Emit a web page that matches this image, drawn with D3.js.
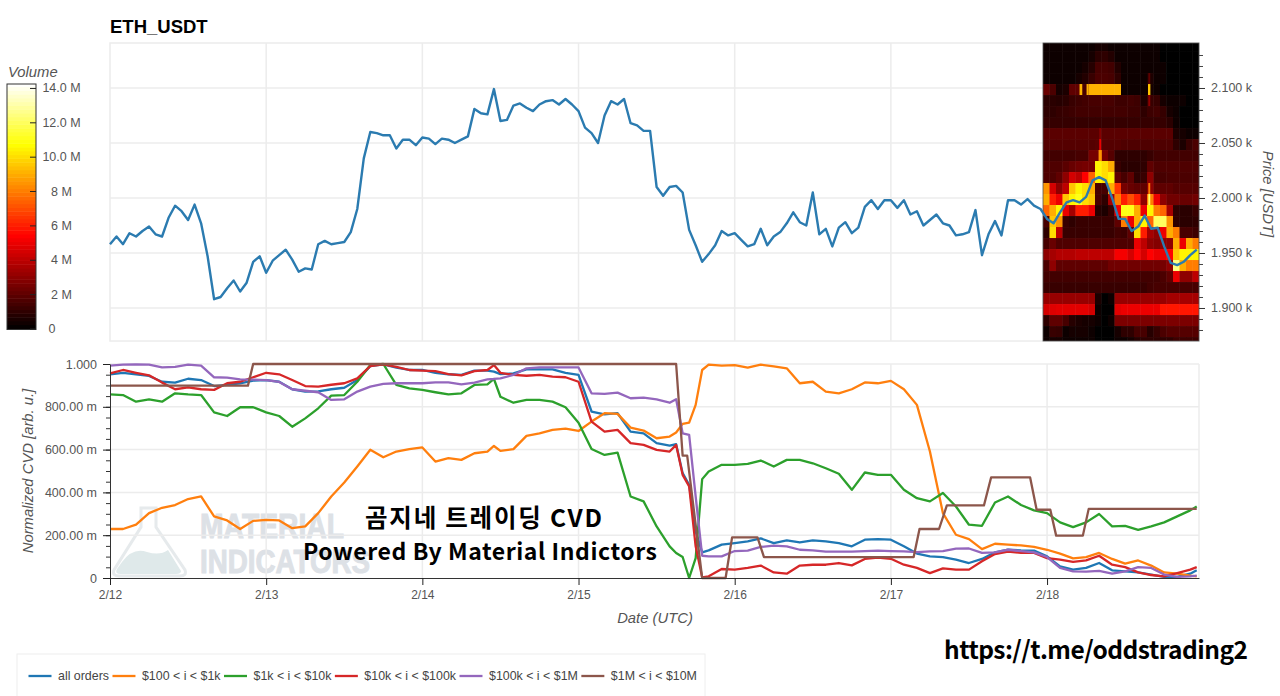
<!DOCTYPE html>
<html>
<head>
<meta charset="utf-8">
<title>ETH_USDT CVD</title>
<script src="https://cdn.jsdelivr.net/npm/d3@7"></script>
<style>
html, body { margin: 0; padding: 0; background: #fff; overflow: hidden; }
svg { display: block; }
text { font-family: "Liberation Sans", Arial, sans-serif; }
.tick text { fill: #555; font-size: 12.5px; }
.grid line { stroke: #ececec; stroke-width: 1.5; }
.cap { font-style: italic; fill: #555; font-size: 14.8px; }
</style>
</head>
<body>
<svg id="chart" width="1280" height="696"></svg>
<script>
// ---- data ----
var priceValues = [
  1958,1965,1958,1968,1965,1970,1974,1967,1965,1982,
  1993,1988,1980,1994,1977,1947,1908,1910,1918,1925,
  1915,1923,1942,1947,1932,1943,1948,1953,1944,1933,
  1936,1935,1958,1961,1958,1959,1960,1969,1990,2036,
  2060,2059,2057,2057,2045,2053,2053,2048,2055,2054,
  2049,2054,2053,2050,2053,2056,2081,2077,2076,2099,
  2070,2071,2084,2086,2082,2079,2085,2088,2089,2085,
  2090,2085,2079,2064,2059,2050,2075,2088,2085,2090,
  2068,2066,2061,2061,2010,2002,2010,2011,2005,1971,
  1957,1942,1949,1957,1970,1966,1968,1962,1956,1958,
  1972,1957,1965,1969,1977,1987,1978,1975,2005,1967,
  1972,1956,1973,1978,1968,1973,1992,1998,1990,1998,
  1998,1991,1998,1985,1988,1975,1980,1985,1977,1975,
  1966,1967,1969,1989,1948,1967,1979,1966,1998,1998,
  1994,1999,1993,1990,1981,1977,1987,1996,1998,1996,
  2001,2016,2019,2016,2000,1981,1981,1970,1974,1984,
  1972,1973,1956,1941,1939,1942,1948,1953
];

var cvdHours = [
  0,2,4,6,8,10,12,14,16,18,20,22,24,26,28,30,32,34,36,38,40,42,44,46,48,50,52,54,56,58,59,60,
  62,64,66,68,70,72,74,76,78,80,82,84,86,87,88,89,90,91,92,94,96,98,100,102,104,106,108,110,
  112,114,116,118,120,122,124,126,128,130,132,134,136,138,140,142,144,146,148,150,152,154,
  156,158,160,162,164,166,167
];

// all values in thousandths of the normalized CVD
var allOrders = [
  952,959,952,944,917,913,931,925,897,902,910,922,925,917,882,871,872,882,889,925,990,998,983,972,972,959,952,949,969,969,964,953,
  956,975,975,975,959,949,778,765,770,684,676,630,619,625,490,435,218,120,129,156,163,171,185,163,176,166,176,171,
  163,148,179,182,179,148,114,101,98,86,70,89,120,132,129,128,101,54,39,47,70,36,
  31,26,16,5,5,20,36
];
var orders100to1k = [
  229,229,249,303,328,341,369,381,288,269,229,267,272,269,233,241,303,381,446,521,599,564,591,602,610,544,560,552,583,591,617,594,
  602,664,676,692,698,687,731,770,767,703,689,653,661,680,720,726,809,972,997,992,995,983,997,989,980,910,917,871,
  863,882,914,910,921,882,809,591,303,202,182,135,160,156,152,145,132,114,92,98,117,89,
  67,82,58,26,20,11,8
];
var orders1kto10k = [
  858,855,824,835,824,863,858,855,774,757,798,798,774,757,707,746,793,852,855,917,995,1000,902,886,879,868,858,863,902,905,930,847,
  819,832,832,824,798,726,603,575,586,381,358,241,148,117,98,0,93,462,498,529,529,533,549,521,552,552,536,513,
  487,412,493,482,482,412,373,358,397,334,249,244,353,381,341,316,303,260,238,260,299,241,
  244,225,241,260,288,316,334
];
var orders10kto100k = [
  956,972,959,947,913,882,891,882,879,910,917,938,959,952,925,897,894,903,910,933,990,998,987,972,969,967,953,947,967,972,995,959,
  949,945,949,941,938,917,731,684,692,630,622,599,591,622,482,428,148,3,8,42,39,47,58,26,20,58,62,62,
  70,59,89,95,90,62,47,23,45,39,39,78,112,123,117,117,93,86,75,82,104,62,
  51,26,14,8,23,39,51
];
var orders100kto1M = [
  992,997,998,997,984,987,997,992,938,936,928,927,925,916,882,875,868,832,835,871,894,907,910,910,910,914,914,905,913,928,930,933,
  949,980,984,984,984,984,863,860,866,840,843,835,819,835,676,669,381,104,101,101,126,128,145,151,148,132,129,123,
  123,123,126,128,126,124,121,124,126,137,138,117,120,132,126,120,98,47,31,30,33,20,
  31,51,47,16,5,8,11
];
// this one moves in flat steps, so it keeps its own hours
var orders1Mto10MHours = [0,21.2,22,87,88,88.7,91,94.6,95.6,99.5,100.5,123.5,124.4,127.4,128.6,134.3,135.4,141.4,142.4,144.5,145.4,149.5,150.4,167];
var orders1Mto10M = [899,899,1000,1000,572,572,0,0,190,190,98,98,229,229,339,339,470,470,319,319,198,198,323,323];

var seriesNames = ["all orders","$100 < i < $1k","$1k < i < $10k","$10k < i < $100k","$100k < i < $1M","$1M < i < $10M"];
var seriesColors = ["#1f77b4","#ff7f0e","#2ca02c","#d62728","#9467bd","#8c564b"];

var dayLabels = ["2/12","2/13","2/14","2/15","2/16","2/17","2/18"];
var priceTicks = [1900,1950,2000,2050,2100];
var priceMinorTicks = [1880,1890,1910,1920,1930,1940,1960,1970,1980,1990,2010,2020,2030,2040,2060,2070,2080,2090,2110,2120,2130];
var cvdTicks = [0,200,400,600,800,1000];
var volumeTicks = [0,2,4,6,8,10,12,14];

// volume profile, one row per 10 USDT price band (top to bottom), one column per hour, in M
var heatTopPrice = 2138.6;
var heatVolume = [
  [.2,.2,.2,.2,.2,.2,.2,.3,.5,.5,.3,.2,.2,.2,.2,.2,.2,.2,.1,.1,.1,.1,.1,.1],
  [.2,.2,.2,.2,.2,.2,.3,.4,.9,1,.7,.3,.2,.2,.2,.2,.2,.2,.1,.1,.1,.1,.1,.1],
  [.3,.2,.2,.2,.3,.3,.4,.8,1.5,1.5,1.4,.7,.2,.2,.2,.2,.2,.3,.2,.1,.1,.1,.1,.1],
  [.3,.3,.3,.3,.3,.4,.7,1.2,1.6,1.6,1.5,1,.3,.3,.3,.3,.6,.3,.2,.1,.1,.1,.1,.1],
  [2.2,1.6,.5,.6,2,2,1.5,9.1,9.1,9.1,9.1,9.1,.3,.2,.2,.2,.4,.2,.1,.1,.1,.1,.1,.1],
  [.9,.9,.8,.9,1.2,1.3,1.4,1.5,1.5,1.5,1.5,1.3,1.3,1.4,1.3,.6,1.2,1.1,.5,.3,.2,.2,.1,.1],
  [1,1,1.1,1.2,1.3,1.4,1.4,1.4,1.4,1.4,1.4,1.4,1.4,1.3,1.3,1,1.3,1.4,1.1,.5,.2,.1,.1,.1],
  [1.1,1.1,1.1,1.1,1.1,1.1,1.1,1.1,1.1,1.1,1.1,1.1,1.1,1.1,1.1,1.1,1.1,1.1,1.1,.9,.3,.1,.1,.1],
  [1.9,1.9,1.9,1.9,1.9,1.9,1.9,1.9,1.9,1.9,1.9,1.9,1.9,1.9,1.9,1.9,1.9,1.9,1.9,1.9,.6,.5,.3,.3],
  [1.8,1.8,1.8,1.8,1.8,1.8,1.8,1.8,1.9,1.8,1.8,1.8,1.7,1.7,1.7,1.7,1.7,1.7,1.7,1.7,1,.6,1.2,1.6],
  [1.4,1.4,1.4,1.4,1.4,1.5,1.5,2.5,2.5,2.5,1.8,1,1,1,1,1,1.2,1.4,1.4,1.4,1.4,1.4,1.4,1.4],
  [1.7,1.7,1.7,1.9,2.2,2.4,2.5,2.5,10.5,10,9,1.2,.9,.9,.9,1,2,1.7,1.7,1.7,1.7,1.7,1.7,1.7],
  [1.7,1.7,2,3,4.5,4,5.5,7.5,10.5,10,10.5,2,1.5,2,1,1.2,3,1.5,1.5,1.6,1.6,1.6,1.6,1.6],
  [8.5,4.5,3,4,9.5,10.5,10,9,1.5,1.5,9,6.5,2.5,2.2,2,2,3,2,2,2,1.8,1.8,1.8,1.8],
  [9,6,5,9.5,10.5,11,10,9.5,1.5,1,3.5,8,6,7,6,3,8,5,3,2.4,2.4,2.2,2.2,2.4],
  [7.5,9,10.5,5,3.5,6,6,5,.8,.6,1.2,5,11,11,9,5,10.5,8,7.5,3.5,1,.9,.9,1.2],
  [1.5,9.5,8.5,1.2,1,1.2,1.2,1.2,1.2,1.2,1.2,2,8,5,9,10.5,7.5,12,12,8.5,1,.9,.9,1],
  [1,10,4,1.2,1.2,1.2,1.2,1.2,1.2,1.2,1.2,1.4,1.3,2,10,6,3.5,3,5,9,8,1.5,1.5,1.3],
  [1.5,2.2,1.7,1.7,1.7,1.7,1.7,1.7,1.7,1.7,1.7,1.7,1.7,1.7,5,4,3,2.8,3,3,9,5,9,8],
  [3,3.5,3.8,3.8,3.8,4,4,4,4,4,4,5.2,5.2,4.5,5.5,4.5,5.5,5,5,5.5,9.5,10.5,10.5,10.5],
  [1.6,3,2,2,2,2,2,2,2,2,2.4,2.4,2.4,2.4,2.4,2.4,2.4,2.4,2.5,3,12.5,9,8,8],
  [1.4,1.4,1.4,1.4,1.4,1.4,1.4,1.4,1.4,1.4,1.4,1.4,1.4,1.4,1.4,1.4,1.4,1.4,1.6,2,5,3,3,4],
  [1.2,1.2,1.2,1.2,1.2,1.2,1.2,1.2,1.2,1.2,1.2,1.2,1.2,1.2,1.2,1.2,1.4,1.5,1.5,1.5,1.5,1.5,1.5,1.5],
  [3.2,3.2,3.2,3.2,3.2,3.2,3.2,3.2,.6,.1,.2,3.2,3.2,3.2,3.2,3.2,3.2,3.2,3.2,3.5,3.5,3.5,3.5,3.5],
  [4.5,4.7,4.8,4.8,4.8,4.8,4.8,4.5,.2,.1,.1,4.8,5,5,5,5,5,5,5.8,5.8,5.8,5.8,5.8,5.8],
  [1,2,2,1.5,.8,.6,.5,.5,.2,.1,.2,2.6,2.6,2.6,2.6,2.6,2.6,2.6,2.6,2.6,2.6,2.6,2.6,2.6],
  [.3,1.2,1.1,.3,.4,.4,.4,.3,.1,.1,.1,.5,1,1,1.5,1.5,.8,1.2,1.6,1.8,1.8,1.8,1.8,1.8],
  [.2,.5,.4,.2,.2,.2,.2,.2,.1,.1,.1,.3,.3,.4,.8,1,1,1,1,1,1.3,1.3,1.3,1.3]
];
// thin columns narrower than an hour: [column, width in columns, row, volume in M]
var heatSpikes = [
  [5.62,.42,4,9.2],[6.7,.3,4,9.1],[16.15,.37,4,9.5],[16.2,.3,3,2],[16.2,.3,5,3],
  [8.65,.3,8,2.8],[8.65,.3,9,5],[8.55,.5,10,8.5],[16.2,.3,13,8],[16.2,.3,14,12]
];

// ---- scales ----
var svg = d3.select("#chart");
var t0 = Date.UTC(2026, 1, 12);
function hourDate(h) { return new Date(t0 + h * 3600000); }
var dayTicks = dayLabels.map(function(d, i) { return hourDate(i * 24); });

var x = d3.scaleUtc().domain([hourDate(0), hourDate(167.35)]).range([110, 1199]);
var yPrice = d3.scaleLinear().domain([1870, 2140.9]).range([341, 43]);
var yCvd = d3.scaleLinear().domain([0, 1000]).range([578, 364]);
var yVol = d3.scaleLinear().domain([0, 14.23]).range([328.5, 84]);
var heatX = d3.scaleLinear().domain([0, 24]).range([1043, 1199]);

// same black-red-yellow-white ramp as the colorbar
var hot = d3.scaleLinear().domain([0, 5.4, 10.7, 14.23]).range(["#000000", "#ff0000", "#ffff00", "#ffffff"]).clamp(true);

// ---- title ----
svg.append("text").attr("x", 110).attr("y", 33)
  .style("font-weight", 700).style("font-size", "18.5px").text("ETH_USDT");

// ---- price panel ----
var upper = svg.append("g");
upper.append("g").attr("class", "grid").selectAll("line").data(priceTicks).join("line")
  .attr("x1", 110).attr("x2", 1199).attr("y1", yPrice).attr("y2", yPrice);
upper.append("g").attr("class", "grid").selectAll("line").data(dayTicks.slice(1)).join("line")
  .attr("x1", x).attr("x2", x).attr("y1", 43).attr("y2", 341);
upper.append("rect").attr("x", 110).attr("y", 43).attr("width", 1089).attr("height", 298)
  .attr("fill", "none").attr("stroke", "#ececec").attr("stroke-width", 1.5);

// the reference heatmap is soft, a small blur takes the hard cell edges off
var soft = svg.append("filter").attr("id", "heatSoft").attr("x", "-2%").attr("y", "-2%").attr("width", "104%").attr("height", "104%");
soft.append("feGaussianBlur").attr("stdDeviation", 0.7);
svg.append("clipPath").attr("id", "heatClip").append("rect")
  .attr("x", 1043).attr("y", 43).attr("width", 156).attr("height", 298);
var heat = upper.append("g").attr("clip-path", "url(#heatClip)")
  .append("g").attr("filter", "url(#heatSoft)");
function rowY(r) { return yPrice(heatTopPrice - r * 10 + 5); }
heatVolume.forEach(function(row, r) {
  heat.selectAll(null).data(row).join("rect")
    .attr("x", function(d, j) { return heatX(j); })
    .attr("y", rowY(r))
    .attr("width", heatX(1) - heatX(0) + 0.4)
    .attr("height", rowY(r + 1) - rowY(r) + 0.4)
    .attr("fill", function(d) { return hot(d); });
});
heat.selectAll(null).data(heatSpikes).join("rect")
  .attr("x", function(d) { return heatX(d[0]); })
  .attr("y", function(d) { return rowY(d[2]); })
  .attr("width", function(d) { return heatX(d[1]) - heatX(0); })
  .attr("height", rowY(1) - rowY(0))
  .attr("fill", function(d) { return hot(d[3]); });
upper.append("rect").attr("x", 1043).attr("y", 43).attr("width", 156).attr("height", 298)
  .attr("fill", "none").attr("stroke", "#555").attr("stroke-width", 0.8);

var priceLine = d3.line()
  .x(function(d, i) { return x(hourDate(i)); })
  .y(function(d) { return yPrice(d); });
upper.append("path").datum(priceValues).attr("d", priceLine)
  .attr("fill", "none").attr("stroke", "#2b7bb0").attr("stroke-width", 2.4).attr("stroke-linejoin", "round");

var rightMinor = upper.append("g").attr("transform", "translate(1199,0)")
  .call(d3.axisRight(yPrice).tickValues(priceMinorTicks).tickSize(4).tickFormat(""));
rightMinor.select(".domain").remove();
rightMinor.selectAll("line").attr("stroke", "#444");
var right = upper.append("g").attr("transform", "translate(1199,0)")
  .call(d3.axisRight(yPrice).tickValues(priceTicks).tickSize(6).tickPadding(6)
    .tickFormat(function(d) { return (d / 1000).toFixed(3) + " k"; }));
right.select(".domain").remove();
right.selectAll("line").attr("stroke", "#333");

svg.append("text").attr("class", "cap").attr("text-anchor", "middle")
  .attr("transform", "translate(1263,194) rotate(90)").text("Price [USDT]");

// ---- colorbar ----
var volSteps = d3.range(0, 14.23, 0.22);
svg.append("g").selectAll("rect").data(volSteps).join("rect")
  .attr("x", 7).attr("width", 29)
  .attr("y", function(d) { return yVol(d + 0.22); })
  .attr("height", yVol(0) - yVol(0.22) + 0.5)
  .attr("fill", function(d) { return hot(d + 0.11); });
svg.append("rect").attr("x", 7).attr("y", 84).attr("width", 29).attr("height", 245.5)
  .attr("fill", "none").attr("stroke", "#333").attr("stroke-width", 1);
var volAxis = svg.append("g").attr("transform", "translate(36,0)")
  .call(d3.axisLeft(yVol).tickValues(volumeTicks).tickSize(6).tickFormat(""));
volAxis.select(".domain").remove();
volAxis.selectAll("line").attr("stroke", "#222");
svg.append("g").selectAll("text").data(volumeTicks).join("text")
  .attr("x", function(d) { return d === 0 ? 52 : 61.5; })
  .attr("y", function(d) { return yVol(d) + 4.5; })
  .attr("text-anchor", "middle")
  .attr("fill", "#555").style("font-size", "12.5px")
  .text(function(d) { return d === 0 ? "0" : d >= 10 ? d.toFixed(1) + " M" : d + " M"; });
svg.append("text").attr("class", "cap").attr("x", 8).attr("y", 77).text("Volume");

// ---- watermark, sits behind the CVD lines ----
var mark = svg.append("g");
mark.append("path")
  .attr("d", "M141,508 H156 V527 L185,570 Q187,576 180,576 H119 Q112,576 114,570 L141,527 Z")
  .attr("fill", "none").attr("stroke", "#e6eaec").attr("stroke-width", 3);
mark.append("path")
  .attr("d", "M122,562 Q133,547 147,552 Q160,556 168,550 L181,571 Q181,574 176,574 H121 Q114,574 117,569 Z")
  .attr("fill", "#dfe9ea");
mark.append("text").attr("x", 200).attr("y", 538).attr("textLength", 144).attr("lengthAdjust", "spacingAndGlyphs")
  .attr("fill", "#dde1e6").attr("stroke", "#dde1e6").attr("stroke-width", 1)
  .style("font-family", "'Liberation Sans Narrow','Liberation Sans'")
  .style("font-weight", 700).style("font-size", "35px").text("MATERIAL");
mark.append("text").attr("x", 200).attr("y", 573).attr("textLength", 170).attr("lengthAdjust", "spacingAndGlyphs")
  .attr("fill", "#dde1e6").attr("stroke", "#dde1e6").attr("stroke-width", 1)
  .style("font-family", "'Liberation Sans Narrow','Liberation Sans'")
  .style("font-weight", 700).style("font-size", "33px").text("INDICATORS");

// ---- CVD panel ----
var low = svg.append("g");
low.append("g").attr("class", "grid").selectAll("line").data(cvdTicks.slice(1)).join("line")
  .attr("x1", 110).attr("x2", 1199).attr("y1", yCvd).attr("y2", yCvd);
low.append("g").attr("class", "grid").selectAll("line").data(dayTicks.slice(1)).join("line")
  .attr("x1", x).attr("x2", x).attr("y1", 364).attr("y2", 578);
low.append("line").attr("x1", 1199).attr("x2", 1199).attr("y1", 364).attr("y2", 578)
  .attr("stroke", "#ececec").attr("stroke-width", 1.5);

var cvdSeries = [allOrders, orders100to1k, orders1kto10k, orders10kto100k, orders100kto1M];
var cvdLine = d3.line()
  .x(function(d) { return x(hourDate(d[0])); })
  .y(function(d) { return yCvd(d[1]); });
cvdSeries.forEach(function(values, s) {
  low.append("path").datum(values.map(function(v, i) { return [cvdHours[i], v]; })).attr("d", cvdLine)
    .attr("fill", "none").attr("stroke", seriesColors[s]).attr("stroke-width", 2.3).attr("stroke-linejoin", "round");
});
low.append("path").datum(orders1Mto10M.map(function(v, i) { return [orders1Mto10MHours[i], v]; })).attr("d", cvdLine)
  .attr("fill", "none").attr("stroke", seriesColors[5]).attr("stroke-width", 2.3).attr("stroke-linejoin", "round");

var leftMinor = low.append("g").attr("transform", "translate(110,0)")
  .call(d3.axisLeft(yCvd).ticks(25).tickSize(4).tickFormat(""));
leftMinor.select(".domain").remove();
leftMinor.selectAll("line").attr("stroke", "#333");
var left = low.append("g").attr("transform", "translate(110,0)")
  .call(d3.axisLeft(yCvd).tickValues(cvdTicks).tickSizeInner(7).tickSizeOuter(0).tickPadding(6)
    .tickFormat(function(d) { return d === 0 ? "0" : d === 1000 ? "1.000" : d.toFixed(2) + " m"; }));
left.select(".domain").attr("stroke", "#333");
left.selectAll("line").attr("stroke", "#222");

var bottom = low.append("g").attr("transform", "translate(0,578)")
  .call(d3.axisBottom(x).tickValues(dayTicks).tickSizeInner(7).tickSizeOuter(0).tickPadding(5)
    .tickFormat(function(d, i) { return dayLabels[i]; }));
bottom.select(".domain").attr("stroke", "#333");
bottom.selectAll("line").attr("stroke", "#222");
bottom.selectAll("text").style("font-size", "12px");

svg.append("text").attr("class", "cap").attr("text-anchor", "middle")
  .attr("transform", "translate(33,471) rotate(-90)").text("Normalized CVD [arb. u.]");
svg.append("text").attr("class", "cap").attr("text-anchor", "middle")
  .attr("x", 655).attr("y", 623).text("Date (UTC)");

// ---- overlay captions ----
function caption(label, xPos, yPos, size, len) {
  svg.append("text").attr("x", xPos).attr("y", yPos).attr("textLength", len).attr("lengthAdjust", "spacing")
    .attr("fill", "#000")
    .style("font-family", "'Noto Sans CJK KR','Noto Sans',sans-serif")
    .style("font-weight", 700).style("font-size", size + "px").text(label);
}
caption("곰지네 트레이딩 CVD", 365, 527, 24.5, 237);
caption("Powered By Material Indictors", 303, 560, 23, 354);
caption("https://t.me/oddstrading2", 944, 659, 24.5, 304);

// ---- legend ----
var legend = svg.append("g");
legend.append("rect").attr("x", 17).attr("y", 654).attr("width", 688).attr("height", 50)
  .attr("fill", "#fff").attr("stroke", "#eeeeee").attr("stroke-width", 1);
var legendX = 28.5;
seriesNames.forEach(function(name, i) {
  legend.append("line").attr("x1", legendX).attr("x2", legendX + 23).attr("y1", 676).attr("y2", 676)
    .attr("stroke", seriesColors[i]).attr("stroke-width", 2.3);
  var label = legend.append("text").attr("x", legendX + 29.5).attr("y", 680)
    .attr("fill", "#444").style("font-size", "12.4px").text(name);
  legendX += 29.5 + label.node().getComputedTextLength() + 3.5;
});
</script>
</body>
</html>
